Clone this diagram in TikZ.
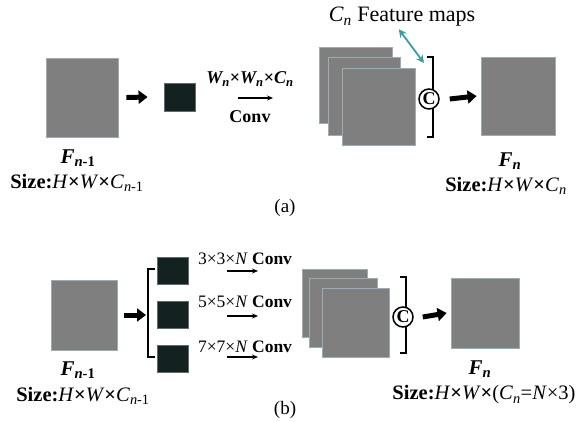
\documentclass[tikz,border=0pt]{standalone}
\usepackage{fontspec}
\setmainfont{Liberation Serif}
\usepackage{tikz}
\usetikzlibrary{arrows.meta, positioning}
\definecolor{mapgray}{HTML}{7F7F7F}
\definecolor{mapedge}{HTML}{9CACB4}
\definecolor{kerneldark}{HTML}{142121}
\definecolor{kerneledge}{HTML}{606C6C}
\definecolor{linkteal}{HTML}{3A9EA0}
\tikzset{
  fmap/.style={draw=mapedge, fill=mapgray, line width=0.8pt, inner sep=0pt},
  kern/.style={draw=kerneledge, fill=kerneldark, line width=0.8pt, inner sep=0pt,
               minimum width=31pt, minimum height=28pt},
  catnode/.style={circle, draw=black, line width=1.5pt, fill=white, inner sep=0pt,
                  minimum size=20pt, font=\fontsize{18}{18}\selectfont\bfseries},
  bigflow/.style={-{Triangle[length=9pt,width=13pt]}, line width=5pt},
  flow/.style={-{Stealth[length=6pt,width=5pt]}, line width=1.2pt},
  brack/.style={line width=1.3pt},
  tealflow/.style={{Stealth[length=8pt,width=8pt]}-{Stealth[length=8pt,width=8pt]},
                   line width=1.8pt, draw=linkteal},
  lblF/.style={font=\fontsize{21}{21}\selectfont, inner sep=0pt},
  lblS/.style={font=\fontsize{20.5}{20.5}\selectfont, inner sep=0pt},
  lblK/.style={font=\fontsize{18}{18}\selectfont, inner sep=0pt},
  caplbl/.style={font=\fontsize{19}{19}\selectfont, inner sep=0pt},
}
\newcommand{\sizetxt}[1]{\textbf{Size:}\textit{H}\textbf{×}\textit{W}\textbf{×}#1}

\begin{document}
\begin{tikzpicture}[x=1pt, y=-1pt]
  \useasboundingbox (0,0) rectangle (584,421);

  % (a)
  \node[fmap, minimum width=72pt, minimum height=79pt] (fin1) at (82,97.5) {};
  \node[kern] (k1) at (179.5,97) {};
  \node[fmap, minimum width=73pt, minimum height=76pt] (fa1) at (355.5,85) {};
  \node[fmap, minimum width=72pt, minimum height=78pt] (fa2) at (364,96) {};
  \node[fmap, minimum width=73pt, minimum height=77pt] (fa3) at (378.5,106.5) {};
  \node[fmap, minimum width=74pt, minimum height=78pt] (fout1) at (518,96) {};
  \coordinate (br1t) at (433,57);
  \coordinate (br1b) at (433,137);
  \draw[brack] ([xshift=-6pt]br1t) -- (br1t) -- (br1b) -- ([xshift=-6pt]br1b);
  \node[catnode] (cat1) at (429,99) {C};
  \draw[bigflow] (fin1.east) ++(8,0) -- ([xshift=-16pt]k1.west);
  \coordinate (ca1s) at (238,98);
  \coordinate (ca1e) at (273,98);
  \draw[flow] (ca1s) -- (ca1e);
  \node[lblK, font=\fontsize{18}{18}\selectfont\bfseries\itshape] (kw1) at (250,79)
    {W\textsubscript{n}\textup{×}W\textsubscript{n}\textup{×}C\textsubscript{n}};
  \node[lblK, font=\fontsize{18}{18}\selectfont\bfseries] (kc1) at (250,117) {Conv};
  \draw[bigflow] ([xshift=10pt]cat1.east) -- ([xshift=-4pt]fout1.west);
  \node[lblF, font=\fontsize{22}{22}\selectfont] (feat) at (402,17)
    {\textit{C}\textsubscript{\textit{n}} Feature maps};
  \draw[tealflow, shorten <=3pt] ([xshift=-5pt]feat.south) -- ([xshift=-9pt, yshift=-6pt]br1t);
  \node[lblF] (f1) at (78,158) {\textbf{\textit{F}\textsubscript{\textit{n}-1}}};
  \node[lblS] (s1) at (77,183) {\sizetxt{\textit{C}\textsubscript{\textit{n}-1}}};
  \node[lblF] (f2) at (510,161) {\textbf{\textit{F}\textsubscript{\textit{n}}}};
  \node[lblS] (s2) at (506,186) {\sizetxt{\textit{C}\textsubscript{\textit{n}}}};
  \node[caplbl] (capa) at (285,208) {(a)};

  % (b)
  \node[fmap, minimum width=66pt, minimum height=70pt] (fin2) at (84,315) {};
  \coordinate (br2t) at (148,269);
  \coordinate (br2b) at (148,357);
  \draw[bigflow] ([xshift=7pt]fin2.east) -- ([xshift=-2pt]br2t |- fin2.east);
  \draw[brack] ([xshift=7pt]br2t) -- (br2t) -- (br2b) -- ([xshift=7pt]br2b);
  \node[kern, minimum height=27pt] (k3) at (173,270.5) {};
  \node[kern, minimum height=27pt] (k5) at (173,314.5) {};
  \node[kern, minimum height=27pt] (k7) at (173,358.5) {};
  \foreach \sz/\ly/\ay in {3/259/271, 5/302/316, 7/347/357} {
    \node[lblK, font=\fontsize{17.5}{17.5}\selectfont] (kl\sz) at (245,\ly)
      {\sz×\sz×\textit{N} \textbf{Conv}};
    \coordinate (ks\sz) at (227,\ay);
    \coordinate (ke\sz) at (258,\ay);
    \draw[flow] (ks\sz) -- (ke\sz);
  }
  \node[fmap, minimum width=65pt, minimum height=68pt] (sb1) at (334.5,303) {};
  \node[fmap, minimum width=68pt, minimum height=69pt] (sb2) at (343,312.5) {};
  \node[fmap, minimum width=67pt, minimum height=69pt] (sb3) at (355.5,322.5) {};
  \node[fmap, minimum width=68pt, minimum height=70pt] (fout2) at (485,313) {};
  \coordinate (br3t) at (406,277);
  \coordinate (br3b) at (406,353);
  \draw[brack] ([xshift=-6pt]br3t) -- (br3t) -- (br3b) -- ([xshift=-6pt]br3b);
  \node[catnode] (cat2) at (403,317) {C};
  \draw[bigflow] ([xshift=9pt]cat2.east) -- ([xshift=-4pt]fout2.west);
  \node[lblF] (f3) at (78,370) {\textbf{\textit{F}\textsubscript{\textit{n}-1}}};
  \node[lblS] (s3) at (83,396) {\sizetxt{\textit{C}\textsubscript{\textit{n}-1}}};
  \node[lblF] (f4) at (480,369) {\textbf{\textit{F}\textsubscript{\textit{n}}}};
  \node[lblS] (s4) at (484,395) {\sizetxt{(\textit{C}\textsubscript{\textit{n}}=\textit{N}×3)}};
  \node[caplbl] (capb) at (285,410) {(b)};
\end{tikzpicture}
\end{document}
